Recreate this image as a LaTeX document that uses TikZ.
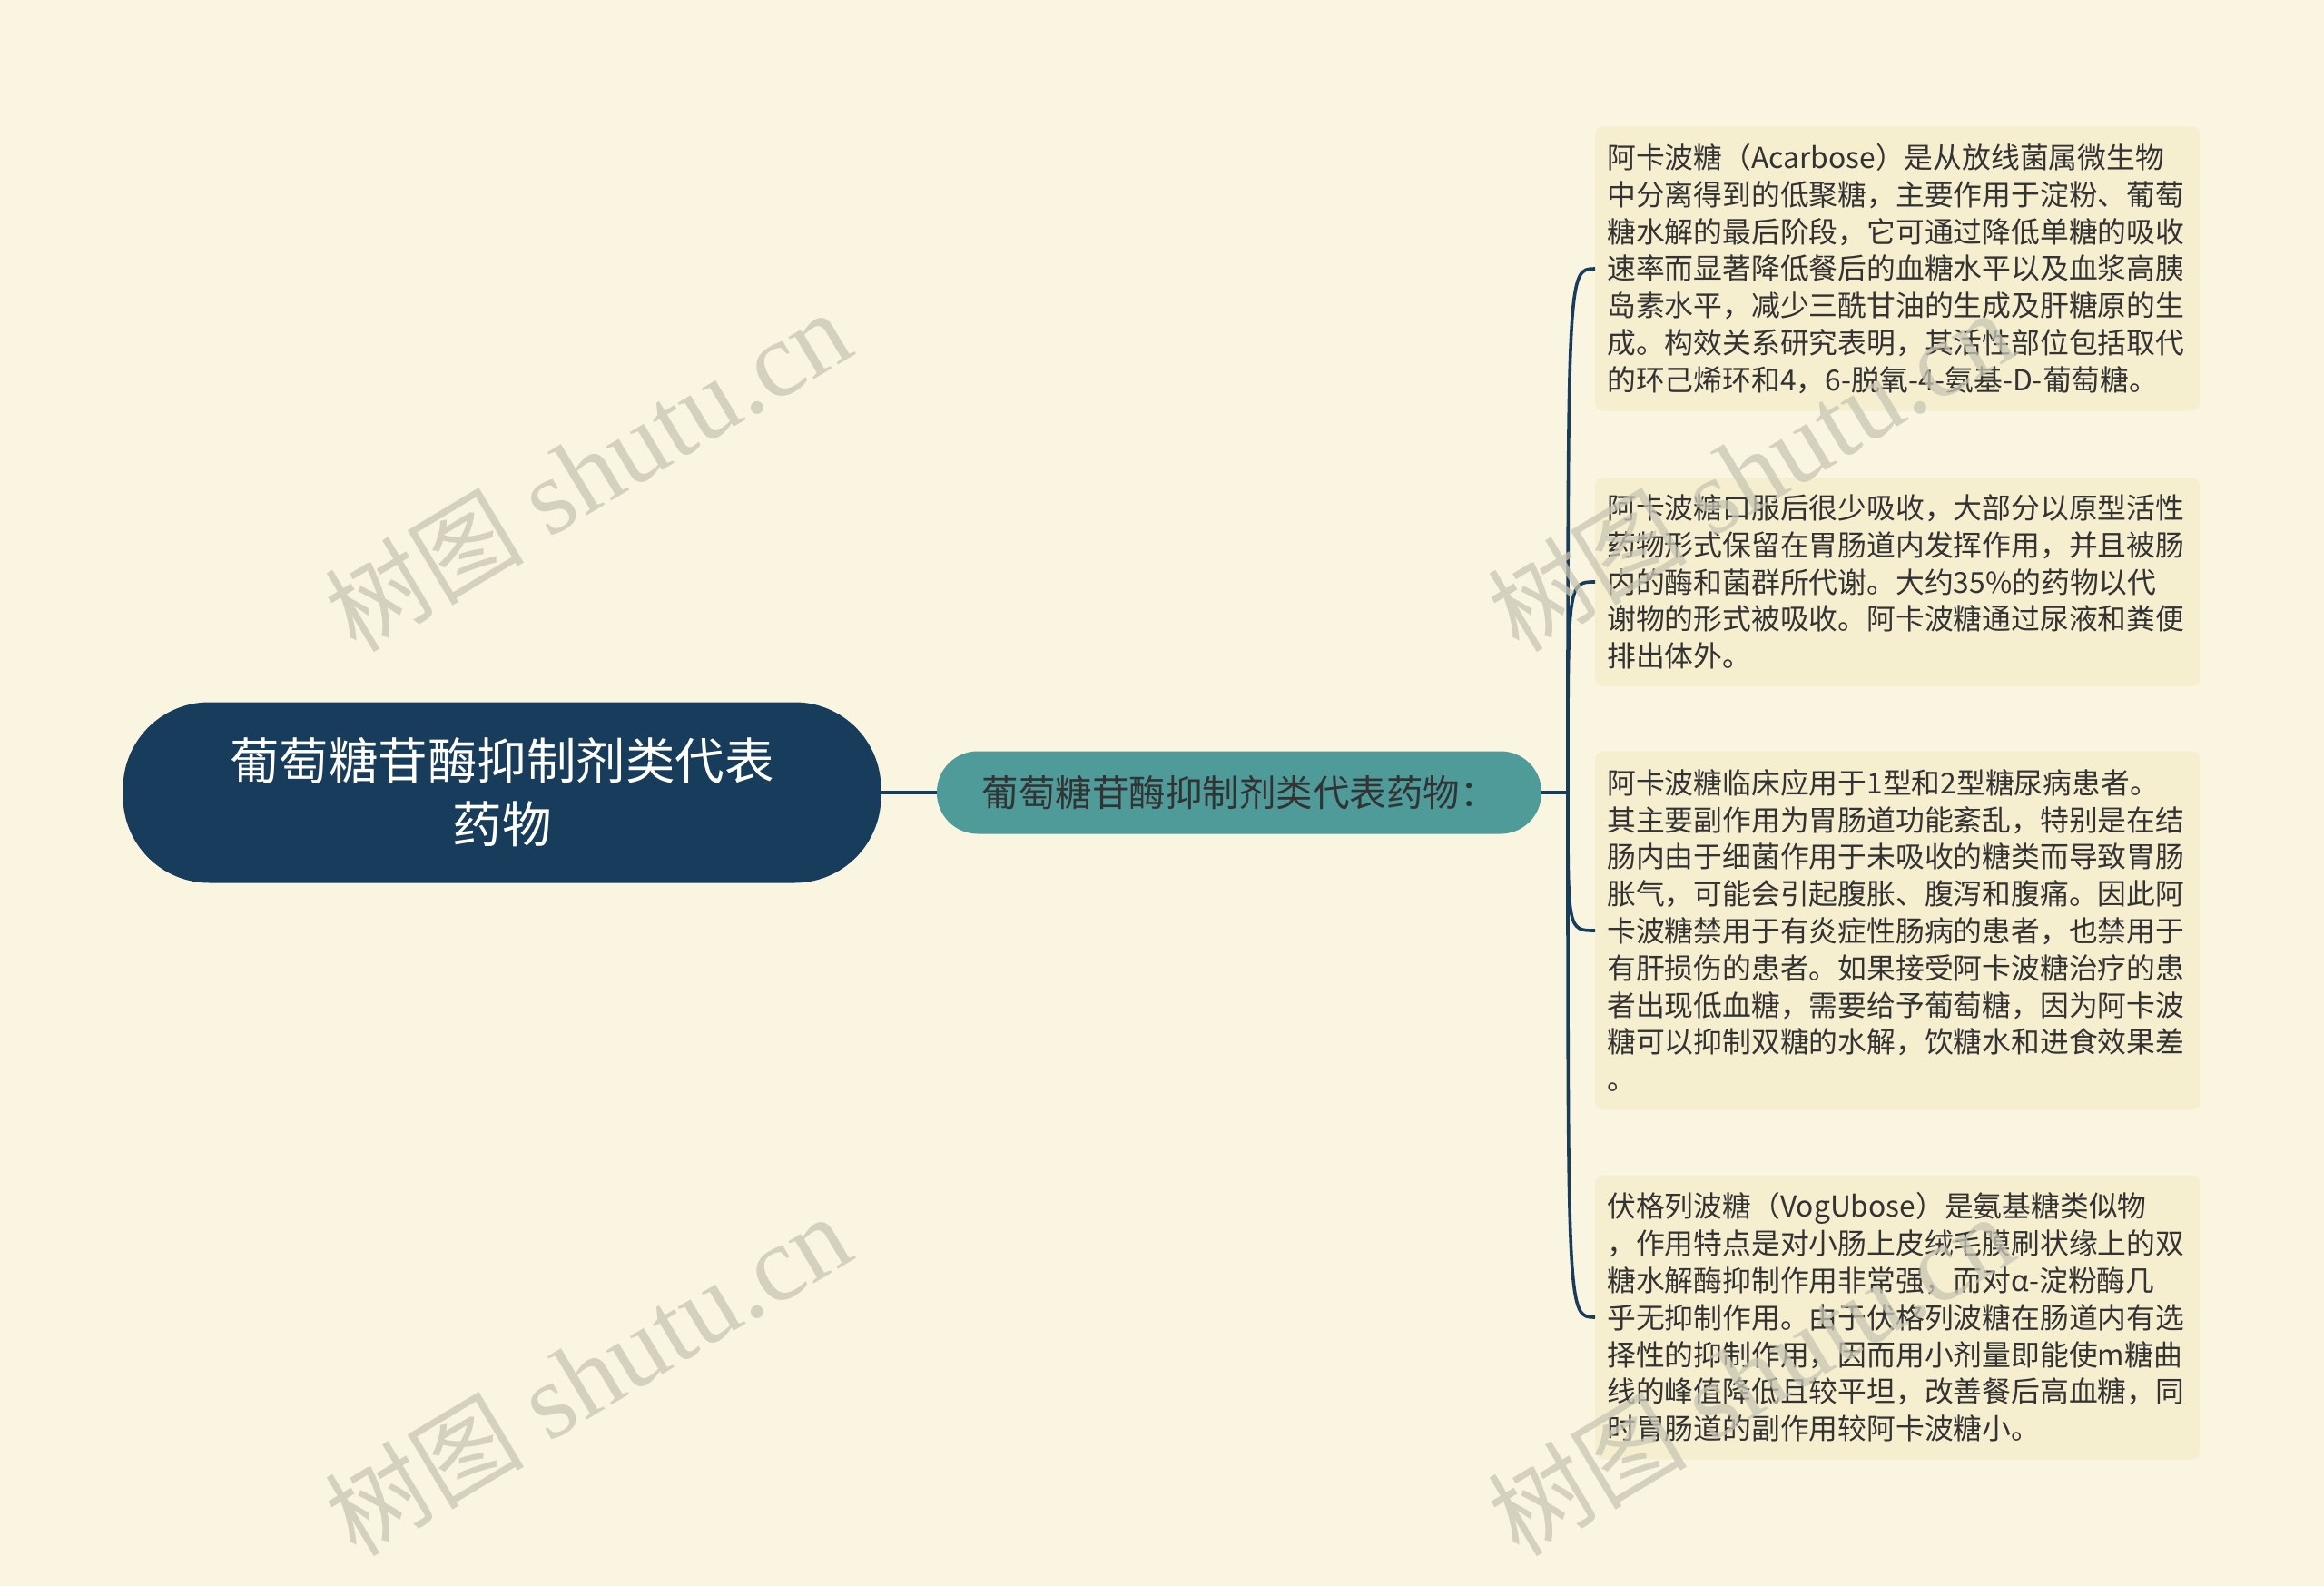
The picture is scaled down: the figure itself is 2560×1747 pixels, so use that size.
\documentclass[tikz,border=0pt]{standalone}
\usepackage{fontspec}
\newfontfamily\cjk{Noto Sans CJK SC}
\newfontfamily\wmlat{Liberation Serif}
\definecolor{bgc}{RGB}{250,245,224}
\definecolor{leafc}{RGB}{245,238,207}
\definecolor{rootc}{RGB}{24,61,92}
\definecolor{midc}{RGB}{79,155,154}
\definecolor{txtc}{RGB}{51,51,51}
\definecolor{wmc}{RGB}{200,198,180}
\tikzset{
  rootbox/.style={fill=rootc, rounded corners=95pt, minimum width=835pt, minimum height=199pt,
    text=white, align=center, font=\cjk\fontsize{54.5pt}{70pt}\selectfont, inner sep=0pt},
  midbox/.style={fill=midc, rounded corners=45pt, minimum width=666pt, minimum height=91pt,
    text=txtc, align=center, font=\cjk\fontsize{40.5pt}{46pt}\selectfont, inner sep=0pt},
  leafbox/.style={fill=leafc, rounded corners=9pt, text width=640pt, inner xsep=13pt, inner ysep=0pt,
    text=txtc, align=left, font=\cjk\fontsize{31.8pt}{40.8pt}\selectfont, anchor=west},
  link/.style={draw=rootc, line width=3.6pt},
  wmark/.style={text=wmc, opacity=0.75, rotate=31, inner sep=0pt}
}
\begin{document}
\begin{tikzpicture}[x=1pt,y=-1pt]
\useasboundingbox (0,0) rectangle (2560,1747);
\fill[bgc] (0,0) rectangle (2560,1747);

\node[rootbox] (root) at (553,873) {葡萄糖苷酶抑制剂类代表\\药物};
\node[midbox] (mid) at (1365,873) {葡萄糖苷酶抑制剂类代表药物：};

\node[leafbox, minimum height=313pt] (l1) at (1757,296) {阿卡波糖（Acarbose）是从放线菌属微生物\\中分离得到的低聚糖，主要作用于淀粉、葡萄\\糖水解的最后阶段，它可通过降低单糖的吸收\\速率而显著降低餐后的血糖水平以及血浆高胰\\岛素水平，减少三酰甘油的生成及肝糖原的生\\成。构效关系研究表明，其活性部位包括取代\\的环己烯环和4，6-脱氧-4-氨基-D-葡萄糖。};
\node[leafbox, minimum height=230pt] (l2) at (1757,641) {阿卡波糖口服后很少吸收，大部分以原型活性\\药物形式保留在胃肠道内发挥作用，并且被肠\\内的酶和菌群所代谢。大约35\%的药物以代\\谢物的形式被吸收。阿卡波糖通过尿液和粪便\\排出体外。};
\node[leafbox, minimum height=395pt] (l3) at (1757,1025) {阿卡波糖临床应用于1型和2型糖尿病患者。\\其主要副作用为胃肠道功能紊乱，特别是在结\\肠内由于细菌作用于未吸收的糖类而导致胃肠\\胀气，可能会引起腹胀、腹泻和腹痛。因此阿\\卡波糖禁用于有炎症性肠病的患者，也禁用于\\有肝损伤的患者。如果接受阿卡波糖治疗的患\\者出现低血糖，需要给予葡萄糖，因为阿卡波\\糖可以抑制双糖的水解，饮糖水和进食效果差\\。};
\node[leafbox, minimum height=313pt] (l4) at (1757,1451) {伏格列波糖（VogUbose）是氨基糖类似物\\，作用特点是对小肠上皮绒毛膜刷状缘上的双\\糖水解酶抑制作用非常强，而对α-淀粉酶几\\乎无抑制作用。由于伏格列波糖在肠道内有选\\择性的抑制作用，因而用小剂量即能使m糖曲\\线的峰值降低且较平坦，改善餐后高血糖，同\\时胃肠道的副作用较阿卡波糖小。};

\coordinate (br) at (1727,873);
\draw[link] (root.east) -- (mid.west);
\draw[link] (mid.east) -- (br);
\foreach \n in {l1,l2,l3,l4}{
  \draw[link] (br) .. controls (br |- \n.west) and (br |- \n.west) .. (\n.west);
}

\foreach \p [count=\i] in {(647,519),(647,1515),(1928,519),(1928,1515)}{
  \node[wmark] (wm\i) at \p {{\cjk\fontsize{110pt}{110pt}\selectfont 树图}\hspace{28pt}{\wmlat\fontsize{118pt}{118pt}\selectfont shutu.cn}};
}
\end{tikzpicture}
\end{document}
